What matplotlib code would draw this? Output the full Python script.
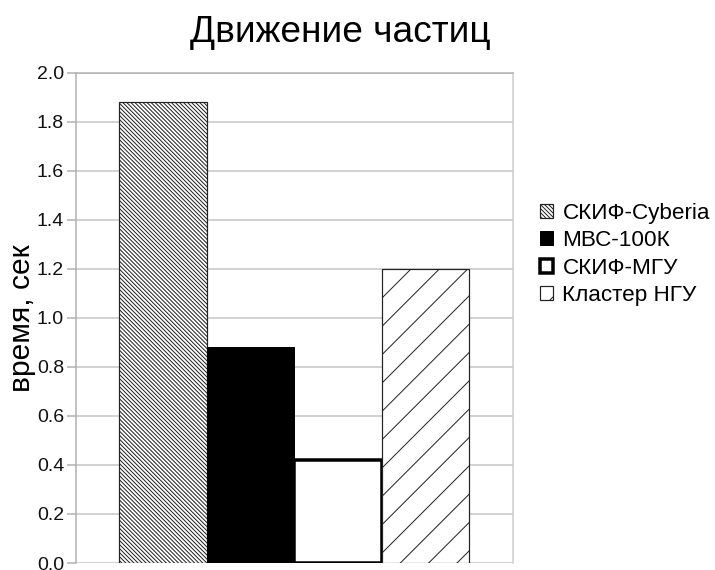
import matplotlib
matplotlib.use("Agg")
import matplotlib.pyplot as plt
import numpy as np

# Rendering resolution; hatch spacing in Agg scales with dpi
DPI = 170
W_PX, H_PX = 715, 570


def pt(px):
    """Convert a size given in output pixels to points."""
    return px * 72.0 / DPI


series = ["СКИФ-Cyberia", "МВС-100К", "СКИФ-МГУ", "Кластер НГУ"]
times = [1.88, 0.88, 0.42, 1.20]
yticks = [0.0, 0.2, 0.4, 0.6, 0.8, 1.0, 1.2, 1.4, 1.6, 1.8, 2.0]

title = "Движение частиц"
ylabel = "время, сек"

plt.rcParams["font.family"] = ["Liberation Sans", "DejaVu Sans"]
plt.rcParams["hatch.linewidth"] = pt(1.0)
plt.rcParams["hatch.color"] = "black"

fig = plt.figure(figsize=(W_PX / DPI, H_PX / DPI), dpi=DPI)
ax = fig.add_axes([75.5 / W_PX, 1 - 563 / H_PX, (513 - 75.5) / W_PX, (563 - 72.5) / H_PX])

styles = [
    dict(facecolor="white", edgecolor="#222222", hatch="\\" * 14, linewidth=pt(1.2)),
    dict(facecolor="black", edgecolor="black", linewidth=pt(1.0)),
    dict(facecolor="white", edgecolor="black", linewidth=pt(3.5)),
    dict(facecolor="white", edgecolor="#222222", hatch="//", linewidth=pt(1.2)),
]

width = 0.2
offsets = (np.arange(len(series)) - (len(series) - 1) / 2) * width
for x, v, name, st in zip(offsets, times, series, styles):
    ax.bar(x, v, width=width, label=name, zorder=3, **st)

ax.set_xlim(-0.5, 0.5)
ax.set_ylim(0, 2.0)
ax.set_yticks(yticks)
ax.set_yticklabels([f"{t:.1f}" for t in yticks])
ax.set_xticks([])

ax.grid(axis="y", color="#c4c4c4", linewidth=pt(1.5), zorder=0)
for side in ["left", "right", "top", "bottom"]:
    ax.spines[side].set_color("#b0b0b0")
    ax.spines[side].set_linewidth(pt(1.5))
ax.spines["right"].set_color("#cccccc")
ax.spines["bottom"].set_visible(False)

ax.tick_params(axis="y", length=pt(9), width=pt(1.5), color="#b0b0b0",
               labelsize=pt(19.5), pad=pt(2.5), labelcolor="#111111")

ax.set_ylabel(ylabel, fontsize=pt(30), labelpad=pt(1))
fig.text(340.5 / W_PX, 1 - 33 / H_PX, title, fontsize=pt(37),
         ha="center", va="center")

fig.legend(loc="center left", bbox_to_anchor=(540 / W_PX, 1 - 254.5 / H_PX),
           frameon=False, fontsize=pt(22.5), borderpad=0, borderaxespad=0,
           handlelength=13 / 22.5, handleheight=13 / 22.5,
           handletextpad=0.42, labelspacing=0.29)

fig.savefig("out.png", dpi=DPI)
